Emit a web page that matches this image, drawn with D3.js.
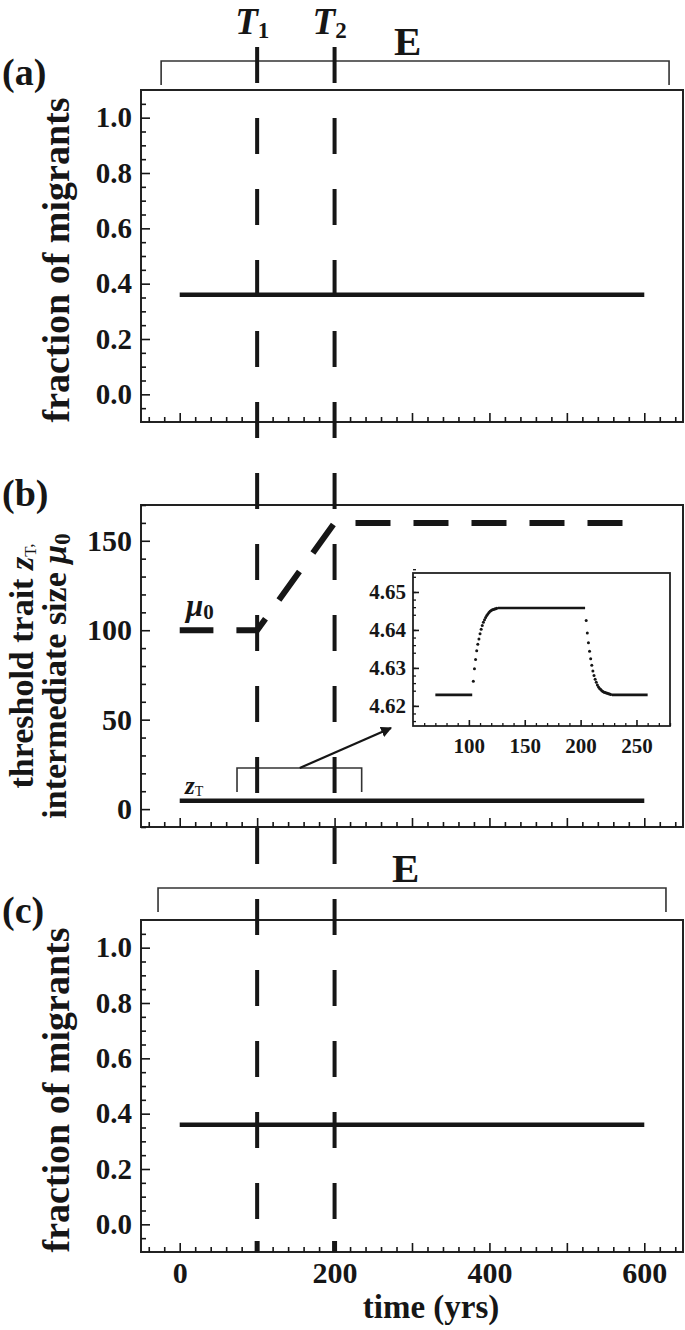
<!DOCTYPE html>
<html>
<head>
<meta charset="utf-8">
<script src="https://cdn.jsdelivr.net/npm/d3@7"></script>
<style>
body{margin:0;background:#fff;}
svg{display:block;font-family:"Liberation Serif","Times New Roman",serif;font-weight:bold;}
</style>
</head>
<body>
<div class="container"></div>
<script>
var width=685, height=1330;

// axes
var timeDomain=[-50,650];
var majorYears=[0,100,200,300,400,500,600];
var yearLabels=[0,200,400,600];
var fracTicks=[0,0.2,0.4,0.6,0.8,1.0];
var sizeTicks=[0,50,100,150];
var insetXTicks=[100,150,200,250];
var insetYTicks=[4.62,4.63,4.64,4.65];

// events T1, T2
var eventYears=[100,200];
var eventNames=["1","2"];

// panel (a) and (c): fraction of migrants
var migYears=[0,600];
var migrantsA=[0.36,0.36];
var migrantsC=[0.36,0.36];

// panel (b)
var muYears=[0,100,200,600];
var muValues=[100,100,160,160];
var zYears=[0,600];
var zValues=[4.62,4.62];

// inset (z_T close up)
var plateauStart=[70,126,228];
var plateauEnd=[103,204,260];
var plateauValue=[4.6229,4.6458,4.6229];
var riseYears=[104,105,106,107,108,109,110,111,112,113,114,115,116,117,118,119,120,121,122,123,124,125];
var riseValues=[4.6265,4.6298,4.6322,4.6345,4.6362,4.6376,4.6390,4.6402,4.6412,4.6420,4.6427,4.6433,4.6438,4.6442,4.6446,4.6449,4.6451,4.6453,4.6454,4.6455,4.6456,4.6457];
var fallYears=[205,206,207,208,209,210,211,212,213,214,215,216,217,218,219,220,221,222,223,224,225,226,227];
var fallValues=[4.6425,4.6392,4.6366,4.6344,4.6324,4.6307,4.6292,4.6280,4.6270,4.6262,4.6255,4.6250,4.6246,4.6243,4.6240,4.6238,4.6236,4.6235,4.6234,4.6233,4.6232,4.6231,4.6230];

// brackets (in years)
var bracketA=[-24,632];
var bracketC=[-28,628];
var zoomBracket=[74,235];

var ink="#161616";
var frameLeft=141, frameRight=683;
var panels={a:{top:90,bottom:422},b:{top:505,bottom:827},c:{top:920,bottom:1252}};

var svg=d3.select(".container").append("svg").attr("width",width).attr("height",height);

var x=d3.scaleLinear().domain(timeDomain).range([frameLeft,frameRight]);
var yA=d3.scaleLinear().domain([-0.1,1.1]).range([panels.a.bottom,panels.a.top]);
var yB=d3.scaleLinear().domain([-10,170]).range([panels.b.bottom,panels.b.top]);
var yC=d3.scaleLinear().domain([-0.1,1.1]).range([panels.c.bottom,panels.c.top]);

function styleAxis(g,fs){
    g.select(".domain").remove();
    g.attr("font-family",null).attr("font-size",null).style("color",ink);
    g.selectAll("line").attr("stroke-width",1.6);
    g.selectAll("text").style("font-size",fs+"px").attr("fill",ink);
}

function drawTimeAxis(p,showLabels){
    var minor=d3.range(-40,650,20).filter(function(d){ return d%100!==0; });
    var gm=svg.append("g").attr("transform","translate(0,"+p.bottom+")")
        .call(d3.axisBottom(x).tickValues(minor).tickSize(-5).tickFormat(""));
    styleAxis(gm,10);
    var g=svg.append("g").attr("transform","translate(0,"+p.bottom+")")
        .call(d3.axisBottom(x).tickValues(majorYears).tickSize(-9)
        .tickFormat(function(d){ return showLabels && yearLabels.indexOf(d)>=0 ? d : ""; }));
    styleAxis(g,30);
    g.selectAll("text").attr("y",31).attr("dy",0);
}

function drawFracAxis(y){
    var minor=d3.range(-1,22).filter(function(i){ return i%4!==0; }).map(function(i){ return i*0.05; });
    var gm=svg.append("g").attr("transform","translate("+frameLeft+",0)")
        .call(d3.axisLeft(y).tickValues(minor).tickSize(-5).tickFormat(""));
    styleAxis(gm,10);
    var g=svg.append("g").attr("transform","translate("+frameLeft+",0)")
        .call(d3.axisLeft(y).tickValues(fracTicks).tickSize(-9).tickPadding(9).tickFormat(d3.format(".1f")));
    styleAxis(g,29);
}

function drawBox(x0,y0,x1,y1,w){
    svg.append("rect").attr("x",x0).attr("y",y0).attr("width",x1-x0).attr("height",y1-y0)
        .attr("fill","none").attr("stroke","#222").attr("stroke-width",w);
}

function drawBracket(range,yTop,yEnd){
    svg.append("path")
        .attr("d","M"+x(range[0])+","+yEnd+"V"+yTop+"H"+x(range[1])+"V"+yEnd)
        .attr("fill","none").attr("stroke","#333").attr("stroke-width",1.6);
}

function panelLabel(t,yy){
    svg.append("text").attr("x",2).attr("y",yy).attr("font-size",38).attr("fill",ink).text(t);
}

function fracTitle(cy){
    svg.append("text").attr("transform","translate(69,"+cy+") rotate(-90)")
        .attr("text-anchor","middle").attr("font-size",38).attr("fill",ink)
        .text("fraction of migrants");
}

// ---------- panel (a)
drawBox(frameLeft,panels.a.top,frameRight,panels.a.bottom,2);
drawTimeAxis(panels.a,false);
drawFracAxis(yA);
var lineA=d3.line().x(function(d,i){ return x(migYears[i]); }).y(function(d){ return yA(d); });
svg.append("path").attr("d",lineA(migrantsA)).attr("fill","none").attr("stroke",ink).attr("stroke-width",4.5);
drawBracket(bracketA,61,85);
svg.append("text").attr("x",394).attr("y",55).attr("font-size",41).attr("fill",ink).text("E");
panelLabel("(a)",85);
fracTitle(260);

// ---------- panel (b)
drawBox(frameLeft,panels.b.top,frameRight,panels.b.bottom,2);
drawTimeAxis(panels.b,false);
(function(){
    var minor=d3.range(-10,171,10).filter(function(d){ return d%50!==0; });
    var gm=svg.append("g").attr("transform","translate("+frameLeft+",0)")
        .call(d3.axisLeft(yB).tickValues(minor).tickSize(-5).tickFormat(""));
    styleAxis(gm,10);
    var g=svg.append("g").attr("transform","translate("+frameLeft+",0)")
        .call(d3.axisLeft(yB).tickValues(sizeTicks).tickSize(-9).tickPadding(9));
    styleAxis(g,30);
})();

var muLine=d3.line().x(function(d,i){ return x(muYears[i]); }).y(function(d){ return yB(d); });
svg.append("path").attr("d",muLine(muValues)).attr("fill","none").attr("stroke",ink)
    .attr("stroke-width",6).attr("stroke-dasharray","35,23").attr("stroke-dashoffset",1.3);
var zLine=d3.line().x(function(d,i){ return x(zYears[i]); }).y(function(d){ return yB(d); });
svg.append("path").attr("d",zLine(zValues)).attr("fill","none").attr("stroke",ink).attr("stroke-width",4.5);

var mu=svg.append("text").attr("x",186).attr("y",616).attr("fill",ink);
mu.append("tspan").attr("font-size",31).attr("font-style","italic").text("\u03bc");
mu.append("tspan").attr("font-size",21).attr("dy",3).text("0");

var zt=svg.append("text").attr("x",185).attr("y",794).attr("fill",ink);
zt.append("tspan").attr("font-size",25).attr("font-style","italic").text("z");
zt.append("tspan").attr("font-size",14).attr("font-weight","normal").attr("dy",2).text("T");

var t1=svg.append("text").attr("transform","translate(33,666) rotate(-90)")
    .attr("text-anchor","middle").attr("font-size",34).attr("fill",ink);
t1.append("tspan").text("threshold trait ");
t1.append("tspan").attr("font-style","italic").text("z");
t1.append("tspan").attr("font-size",17).attr("font-weight","normal").attr("dy",3).text("T");
t1.append("tspan").attr("font-size",17).attr("font-weight","normal").attr("dy",-3).text(",");
var t2=svg.append("text").attr("transform","translate(66,676) rotate(-90)")
    .attr("text-anchor","middle").attr("font-size",34).attr("fill",ink);
t2.append("tspan").text("intermediate size ");
t2.append("tspan").attr("font-style","italic").text("\u03bc");
t2.append("tspan").attr("font-size",23).attr("dy",4).text("0");
panelLabel("(b)",506);

// zoom bracket + arrow
var bTop=768, bEnd=792;
drawBracket(zoomBracket,bTop,bEnd);
var inset={left:413,right:670,top:573,bottom:726};
svg.append("defs").append("marker").attr("id","head").attr("viewBox","0 0 10 10")
    .attr("refX",9).attr("refY",5).attr("markerWidth",5).attr("markerHeight",5).attr("orient","auto")
    .append("path").attr("d","M0,0L10,5L0,10z").attr("fill",ink);
svg.append("line").attr("x1",x(155)).attr("y1",bTop).attr("x2",inset.left-22).attr("y2",inset.bottom+2)
    .attr("stroke",ink).attr("stroke-width",2.2).attr("marker-end","url(#head)");

// ---------- inset
var xi=d3.scaleLinear().domain([50,280]).range([inset.left,inset.right]);
var yi=d3.scaleLinear().domain([4.6147,4.655]).range([inset.bottom,inset.top]);
svg.append("rect").attr("x",inset.left).attr("y",inset.top).attr("width",inset.right-inset.left)
    .attr("height",inset.bottom-inset.top).attr("fill","#fff").attr("stroke","#222").attr("stroke-width",1.8);
(function(){
    var minX=d3.range(60,281,10).filter(function(d){ return d%50!==0; });
    var g1=svg.append("g").attr("transform","translate(0,"+inset.bottom+")")
        .call(d3.axisBottom(xi).tickValues(minX).tickSize(-3).tickFormat(""));
    styleAxis(g1,10);
    var g2=svg.append("g").attr("transform","translate(0,"+inset.bottom+")")
        .call(d3.axisBottom(xi).tickValues(insetXTicks).tickSize(-6).tickFormat(d3.format("d")));
    styleAxis(g2,21);
    g2.selectAll("text").attr("y",12).attr("dy","0.71em");
    var minY=d3.range(0,21).map(function(i){ return 4.616+i*0.002; }).filter(function(d,i){ return (i+2)%5!==0; });
    var g3=svg.append("g").attr("transform","translate("+inset.left+",0)")
        .call(d3.axisLeft(yi).tickValues(minY).tickSize(-3).tickFormat(""));
    styleAxis(g3,10);
    var g4=svg.append("g").attr("transform","translate("+inset.left+",0)")
        .call(d3.axisLeft(yi).tickValues(insetYTicks).tickSize(-6).tickPadding(7).tickFormat(d3.format(".2f")));
    styleAxis(g4,21);
    g3.selectAll("line").attr("stroke-width",1.3);
    g1.selectAll("line").attr("stroke-width",1.3);
})();
plateauStart.forEach(function(s,i){
    svg.append("line").attr("x1",xi(s)).attr("x2",xi(plateauEnd[i]))
        .attr("y1",yi(plateauValue[i])).attr("y2",yi(plateauValue[i]))
        .attr("stroke",ink).attr("stroke-width",2.6);
});
var dots=riseYears.map(function(d,i){ return [d,riseValues[i]]; })
    .concat(fallYears.map(function(d,i){ return [d,fallValues[i]]; }));
svg.append("g").selectAll("circle").data(dots).enter().append("circle")
    .attr("cx",function(d){ return xi(d[0]); })
    .attr("cy",function(d){ return yi(d[1]); })
    .attr("r",1.5).attr("fill",ink);

// ---------- panel (c)
drawBox(frameLeft,panels.c.top,frameRight,panels.c.bottom,2);
drawTimeAxis(panels.c,true);
drawFracAxis(yC);
var lineC=d3.line().x(function(d,i){ return x(migYears[i]); }).y(function(d){ return yC(d); });
svg.append("path").attr("d",lineC(migrantsC)).attr("fill","none").attr("stroke",ink).attr("stroke-width",4.5);
drawBracket(bracketC,888,912);
svg.append("text").attr("x",392).attr("y",882).attr("font-size",41).attr("fill",ink).text("E");
panelLabel("(c)",923);
fracTitle(1090);
svg.append("text").attr("x",431).attr("y",1318).attr("text-anchor","middle").attr("font-size",33)
    .attr("fill",ink).text("time (yrs)");
svg.selectAll(".evtick").data(eventYears).enter().append("line")
    .attr("x1",function(d){ return x(d); }).attr("x2",function(d){ return x(d); })
    .attr("y1",panels.c.bottom-11).attr("y2",panels.c.bottom)
    .attr("stroke",ink).attr("stroke-width",5);

// ---------- T1, T2 dashed lines
svg.selectAll(".evline").data(eventYears).enter().append("line")
    .attr("x1",function(d){ return x(d); }).attr("x2",function(d){ return x(d); })
    .attr("y1",47).attr("y2",panels.c.bottom)
    .attr("stroke",ink).attr("stroke-width",4).attr("stroke-dasharray","36,35");
eventYears.forEach(function(d,i){
    var t=svg.append("text").attr("x",x(d)-22).attr("y",34).attr("fill",ink);
    t.append("tspan").attr("font-size",37).attr("font-style","italic").text("T");
    t.append("tspan").attr("font-size",23).attr("dy",4).text(eventNames[i]);
});
</script>
</body>
</html>
